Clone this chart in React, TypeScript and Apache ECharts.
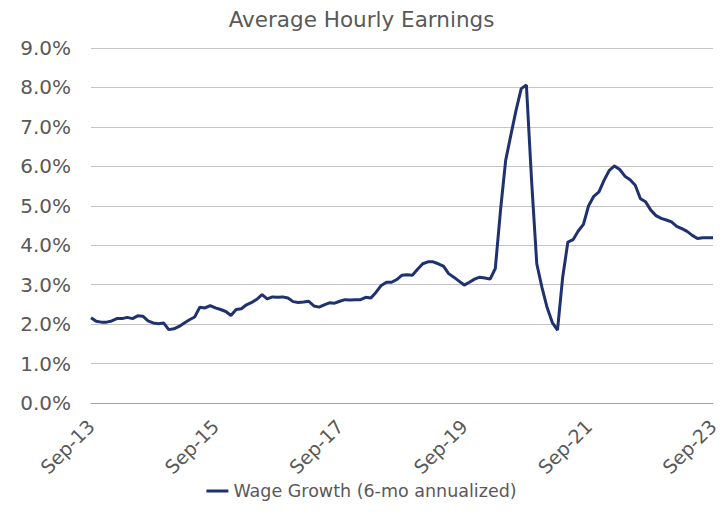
import React, { useEffect, useRef } from "react";
import * as echarts from "echarts";

const titleText = "Average Hourly Earnings";
const seriesName = "Wage Growth (6-mo annualized)";
const monthNames = ["Jan","Feb","Mar","Apr","May","Jun","Jul","Aug","Sep","Oct","Nov","Dec"];
// Monthly categories from Sep-13 to Sep-23
const categories: string[] = [];
for (let k = 0; k < 121; k++) {
  const m = (8 + k) % 12;
  const y = 13 + Math.floor((8 + k) / 12);
  categories.push(`${monthNames[m]}-${y}`);
}

const wageGrowth = [
  2.16, 2.07, 2.05, 2.05, 2.08, 2.14, 2.14, 2.17, 2.14, 2.21,
  2.20, 2.08, 2.03, 2.01, 2.03, 1.86, 1.88, 1.94, 2.03, 2.11,
  2.18, 2.43, 2.41, 2.47, 2.41, 2.37, 2.32, 2.22, 2.37, 2.39,
  2.49, 2.55, 2.63, 2.75, 2.64, 2.69, 2.68, 2.69, 2.66, 2.57,
  2.55,
  2.56, 2.58, 2.46, 2.43, 2.49, 2.54, 2.53, 2.58, 2.62, 2.61,
  2.62, 2.62, 2.68, 2.66, 2.81, 2.98, 3.06, 3.06, 3.13, 3.24,
  3.25, 3.24, 3.39, 3.53, 3.58, 3.58, 3.53, 3.47, 3.28, 3.19,
  3.09, 2.99, 3.06, 3.14, 3.19, 3.17, 3.14, 3.41,
  4.88, 6.15, 6.79, 7.42, 7.97, 8.06, 5.64, 3.53, 2.93, 2.42,
  2.04, 1.85, 3.19, 4.08, 4.14, 4.36, 4.53,
  5.00, 5.24, 5.35, 5.65, 5.90, 6.01, 5.92, 5.75, 5.66, 5.52,
  5.18, 5.10, 4.89, 4.75, 4.68, 4.64, 4.59, 4.48, 4.42, 4.35,
  4.25, 4.17, 4.19, 4.19, 4.19,
];

const yMin = 0;
const yMax = 9;
const yInterval = 1;

export default function App() {
  const ref = useRef<HTMLDivElement>(null);
  useEffect(() => {
    document.body.style.margin = "0";
    if (!ref.current) return;
    const chart = echarts.init(ref.current, null, { renderer: "svg" });
    const font = "'DejaVu Sans', Verdana, sans-serif";
    chart.setOption({
      animation: false,
      backgroundColor: "#ffffff",
      textStyle: { fontFamily: font },
      title: {
        text: titleText,
        left: "center",
        top: 3,
        textStyle: { fontSize: 21.5, fontWeight: "normal", color: "#595959", fontFamily: font },
      },
      legend: {
        bottom: 10,
        left: "center",
        icon: "rect",
        itemWidth: 22,
        itemHeight: 3,
        textStyle: { fontSize: 17.5, color: "#595959", fontFamily: font },
        data: [seriesName],
      },
      grid: { left: 91, right: 10, top: 48, bottom: 112, containLabel: false },
      xAxis: {
        type: "category",
        data: categories,
        boundaryGap: false,
        axisLine: { show: true, lineStyle: { color: "#a6a6a6", width: 1 } },
        axisTick: { show: false },
        axisLabel: {
          interval: 23,
          rotate: 45,
          fontSize: 19,
          color: "#595959",
          margin: 20,
          fontFamily: font,
          formatter: (v: string) => (v.startsWith("Sep") ? v : ""),
        },
        splitLine: { show: false },
      },
      yAxis: {
        type: "value",
        min: yMin,
        max: yMax,
        interval: yInterval,
        axisLine: { show: false },
        axisTick: { show: false },
        axisLabel: {
          fontSize: 20,
          color: "#595959",
          margin: 20,
          fontFamily: font,
          formatter: (v: number) => v.toFixed(1) + "%",
        },
        splitLine: { show: true, lineStyle: { color: "#c4c4c4", width: 1 } },
      },
      series: [
        {
          name: seriesName,
          type: "line",
          data: wageGrowth,
          showSymbol: false,
          symbol: "none",
          smooth: false,
          lineStyle: { width: 3, color: "#203170" },
          itemStyle: { color: "#203170" },
        },
      ],
    });
    return () => chart.dispose();
  }, []);
  return <div ref={ref} style={{ width: 723, height: 515 }} />;
}
